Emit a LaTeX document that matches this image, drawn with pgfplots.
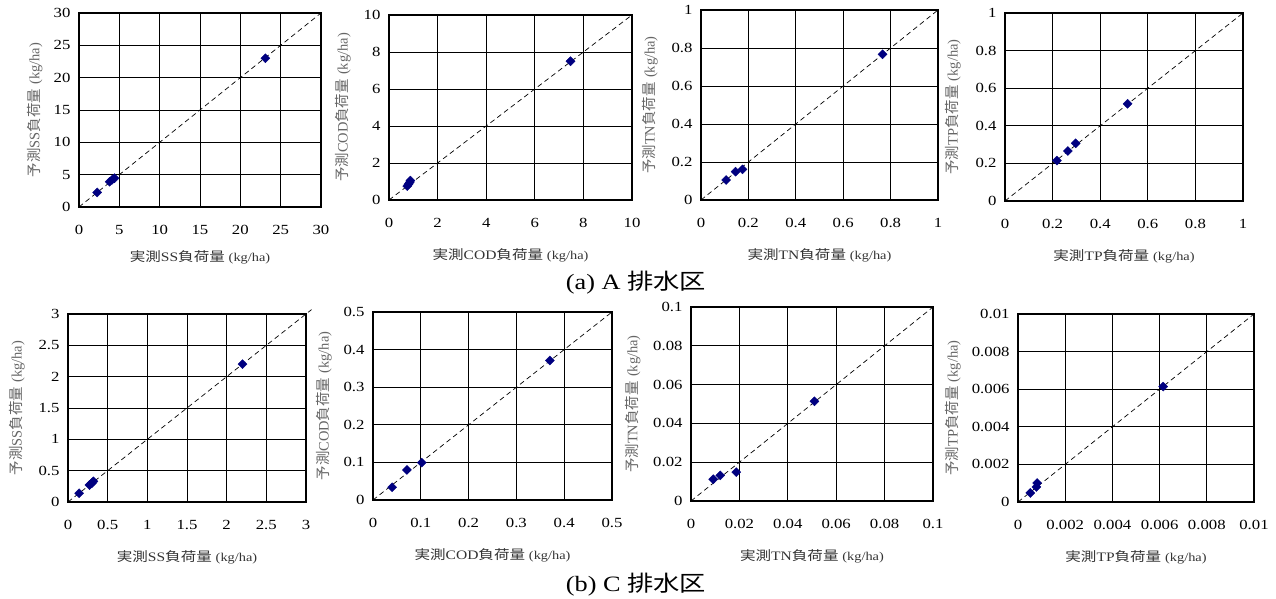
\documentclass[border=0pt]{standalone}
\usepackage{fontspec}
\setmainfont{Liberation Serif}[FakeStretch=1.2]
\newfontfamily\cjk{Noto Sans CJK JP}[FakeStretch=1.2]
\newfontfamily\vserif{Liberation Serif}
\newfontfamily\vcjk{Noto Sans CJK JP}
\usepackage{pgfplots}
\pgfplotsset{compat=1.18}
\definecolor{navy}{RGB}{0,0,128}

% axis label helpers
\newcommand{\xl}[1]{{\cjk 実測}#1{\cjk 負荷量} {\fontsize{12}{14}\selectfont(kg/ha)}}
\newcommand{\yl}[1]{{\vcjk 予測}{\vserif #1}{\vcjk 負荷量} {\vserif (kg/ha)}}

\pgfplotsset{
  panel/.style={
    scale only axis, anchor=south west,
    xmin=0, ymin=0,
    grid=major,
    major grid style={black, line width=0.7bp},
    axis line style={line width=1.4bp},
    tick style={draw=none},
    scaled ticks=false,
    ticklabel style={font=\fontsize{14}{16}\selectfont},
    xticklabel style={yshift=-15bp},
    yticklabel style={xshift=-5bp},
    /pgf/number format/assume math mode=true,
    /pgf/number format/fixed,
    /pgf/number format/precision=3,
    xlabel style={at={(axis description cs:0.5,0)}, anchor=center, yshift=-55bp,
      font=\fontsize{13}{15}\selectfont, text=black!80},
    ylabel style={anchor=center, font=\fontsize{14.5}{16}\selectfont, text=black!60},
  },
  diag/.style={black, line width=0.7bp, dash pattern=on 5bp off 3.5bp},
  pts/.style={only marks, mark=square*, mark size=3.2bp,
    mark options={rotate=45, fill=navy, draw=navy}},
}

\begin{document}
\begin{tikzpicture}
\useasboundingbox (0,0) rectangle (1276bp,599bp);

% ---- (a) A
\begin{axis}[panel, at={(79bp,392bp)}, width=242bp, height=194bp,
  xmax=30, ymax=30, xtick={0,5,10,15,20,25,30}, ytick={0,5,10,15,20,25,30},
  xlabel={\xl{SS}}, ylabel={\yl{SS}},
  xlabel style={yshift=5bp},
  ylabel style={at={(axis description cs:-0.182,0.5)}}]
\addplot[diag] coordinates {(0,0) (30,30)};
\addplot[pts] coordinates {(2.25,2.25) (3.8,3.9) (4.1,4.2) (4.4,4.45) (23.1,23.0)};
\end{axis}

\begin{axis}[panel, at={(389bp,399bp)}, width=243bp, height=185bp,
  xmax=10, ymax=10, xtick={0,2,4,6,8,10}, ytick={0,2,4,6,8,10},
  xlabel={\xl{COD}}, ylabel={\yl{COD}},
  ylabel style={at={(axis description cs:-0.189,0.5)}}]
\addplot[diag] coordinates {(0,0) (10,10)};
\addplot[pts] coordinates {(0.75,0.75) (0.8,0.85) (0.85,0.95) (0.88,1.05) (7.47,7.5)};
\end{axis}

\begin{axis}[panel, at={(701bp,399bp)}, width=237bp, height=190bp,
  xmax=1, ymax=1, xtick={0,0.2,0.4,0.6,0.8,1}, ytick={0,0.2,0.4,0.6,0.8,1},
  xlabel={\xl{TN}}, ylabel={\yl{TN}},
  ylabel style={at={(axis description cs:-0.215,0.5)}}]
\addplot[diag] coordinates {(0,0) (1,1)};
\addplot[pts] coordinates {(0.106,0.105) (0.146,0.149) (0.175,0.161) (0.766,0.767)};
\end{axis}

\begin{axis}[panel, at={(1005bp,398bp)}, width=238bp, height=188bp,
  xmax=1, ymax=1, xtick={0,0.2,0.4,0.6,0.8,1}, ytick={0,0.2,0.4,0.6,0.8,1},
  xlabel={\xl{TP}}, ylabel={\yl{TP}},
  ylabel style={at={(axis description cs:-0.218,0.5)}}]
\addplot[diag] coordinates {(0,0) (1,1)};
\addplot[pts] coordinates {(0.218,0.215) (0.264,0.266) (0.297,0.307) (0.515,0.517)};
\end{axis}

\node[font=\fontsize{22}{24}\selectfont] at (636bp,316bp) {(a) A {\cjk 排水区}};

% ---- (b) C
\begin{axis}[panel, at={(68bp,97bp)}, width=238bp, height=188bp, clip=false,
  xmax=3, ymax=3, xtick={0,0.5,1,1.5,2,2.5,3}, ytick={0,0.5,1,1.5,2,2.5,3},
  xlabel={\xl{SS}}, ylabel={\yl{SS}},
  ylabel style={at={(axis description cs:-0.214,0.5)}}]
\addplot[diag] coordinates {(0,0) (3.07,3.07)};
\addplot[pts] coordinates {(0.14,0.14) (0.27,0.27) (0.30,0.30) (0.32,0.33) (2.2,2.2)};
\end{axis}

\begin{axis}[panel, at={(373bp,99bp)}, width=239bp, height=188bp,
  xmax=0.5, ymax=0.5, xtick={0,0.1,0.2,0.3,0.4,0.5}, ytick={0,0.1,0.2,0.3,0.4,0.5},
  xlabel={\xl{COD}}, ylabel={\yl{COD}},
  ylabel style={at={(axis description cs:-0.205,0.5)}}]
\addplot[diag] coordinates {(0,0) (0.5,0.5)};
\addplot[pts] coordinates {(0.040,0.034) (0.071,0.080) (0.102,0.0995) (0.370,0.371)};
\end{axis}

\begin{axis}[panel, at={(691bp,98bp)}, width=242bp, height=194bp,
  xmax=0.1, ymax=0.1, xtick={0,0.02,0.04,0.06,0.08,0.1}, ytick={0,0.02,0.04,0.06,0.08,0.1},
  xlabel={\xl{TN}}, ylabel={\yl{TN}},
  ylabel style={at={(axis description cs:-0.240,0.5)}}]
\addplot[diag] coordinates {(0,0) (0.1,0.1)};
\addplot[pts] coordinates {(0.0092,0.0112) (0.0121,0.0132) (0.0187,0.0149) (0.0510,0.0514)};
\end{axis}

\begin{axis}[panel, at={(1018bp,97bp)}, width=236bp, height=188bp,
  xmax=0.01, ymax=0.01, xtick={0,0.002,0.004,0.006,0.008,0.01}, ytick={0,0.002,0.004,0.006,0.008,0.01},
  xlabel={\xl{TP}}, ylabel={\yl{TP}},
  ylabel style={at={(axis description cs:-0.275,0.5)}}]
\addplot[diag] coordinates {(0,0) (0.01,0.01)};
\addplot[pts] coordinates {(0.00052,0.00048) (0.00078,0.0008) (0.00081,0.00101) (0.00615,0.00614)};
\end{axis}

\node[font=\fontsize{22}{24}\selectfont] at (636bp,14bp) {(b) C {\cjk 排水区}};
\end{tikzpicture}
\end{document}
